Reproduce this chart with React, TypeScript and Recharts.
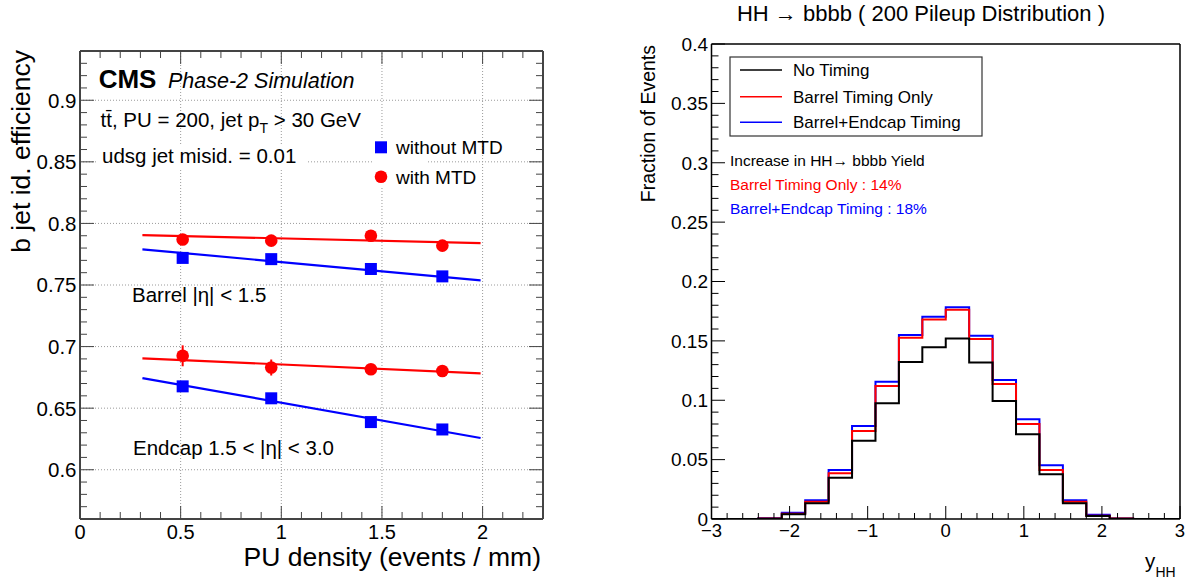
import React from "react";
import { ScatterChart, ComposedChart, Scatter, Line, XAxis, YAxis, ReferenceLine, ErrorBar } from "recharts";

const FONT = '"Liberation Sans", Arial, Helvetica, sans-serif';
const RED = "#ff0000";
const BLUE = "#0000ff";

// left panel: b jet id. efficiency vs PU density
const puDensity = [0.51, 0.95, 1.445, 1.8];
const barrelNoMtd = [0.772, 0.771, 0.763, 0.757];
const barrelMtd = [0.787, 0.786, 0.79, 0.782];
const endcapNoMtd = [0.6677, 0.658, 0.6387, 0.6327];
const endcapMtd = [0.6925, 0.683, 0.6816, 0.6802];
const endcapMtdErr = [0.0085, 0.0065, 0.0025, 0.0025];
const fitRange = [0.31, 1.99];
const barrelNoMtdFit = [0.779, 0.7537];
const barrelMtdFit = [0.7905, 0.784];
const endcapNoMtdFit = [0.6744, 0.6258];
const endcapMtdFit = [0.6905, 0.6783];

const effTicks = [
  0.57, 0.58, 0.59, 0.6, 0.61, 0.62, 0.63, 0.64, 0.65, 0.66, 0.67, 0.68, 0.69, 0.7, 0.71, 0.72, 0.73, 0.74, 0.75,
  0.76, 0.77, 0.78, 0.79, 0.8, 0.81, 0.82, 0.83, 0.84, 0.85, 0.86, 0.87, 0.88, 0.89, 0.9, 0.91, 0.92, 0.93,
];
const effMajor = [0.6, 0.65, 0.7, 0.75, 0.8, 0.85, 0.9];
const puTicks = [0, 0.1, 0.2, 0.3, 0.4, 0.5, 0.6, 0.7, 0.8, 0.9, 1, 1.1, 1.2, 1.3, 1.4, 1.5, 1.6, 1.7, 1.8, 1.9, 2, 2.1, 2.2];
const puMajor = [0, 0.5, 1, 1.5, 2];

// right panel: y_HH distribution, 0.3 wide bins
const binLow = [-3, -2.7, -2.4, -2.1, -1.8, -1.5, -1.2, -0.9, -0.6, -0.3, 0, 0.3, 0.6, 0.9, 1.2, 1.5, 1.8, 2.1, 2.4, 2.7];
const binEnd = 3;
const noTiming = [0, 0, 0.0003, 0.0039, 0.0132, 0.0348, 0.066, 0.0974, 0.1322, 0.1446, 0.1519, 0.1317, 0.0994, 0.0713, 0.0376, 0.0132, 0.0025, 0.0003, 0, 0];
const barrelTiming = [0, 0, 0.0004, 0.0045, 0.0146, 0.0385, 0.0741, 0.112, 0.1527, 0.1681, 0.1763, 0.1516, 0.1137, 0.08, 0.0413, 0.0146, 0.0028, 0.0004, 0, 0];
const barrelEndcapTiming = [0, 0, 0.0006, 0.0053, 0.0157, 0.0413, 0.0783, 0.1156, 0.155, 0.1704, 0.1783, 0.1544, 0.117, 0.084, 0.0452, 0.0157, 0.0035, 0.0005, 0, 0];

const fracTicks = [
  0, 0.01, 0.02, 0.03, 0.04, 0.05, 0.06, 0.07, 0.08, 0.09, 0.1, 0.11, 0.12, 0.13, 0.14, 0.15, 0.16, 0.17, 0.18, 0.19, 0.2,
  0.21, 0.22, 0.23, 0.24, 0.25, 0.26, 0.27, 0.28, 0.29, 0.3, 0.31, 0.32, 0.33, 0.34, 0.35, 0.36, 0.37, 0.38, 0.39, 0.4,
];
const fracMajor = [0, 0.05, 0.1, 0.15, 0.2, 0.25, 0.3, 0.35, 0.4];
const yhhTicks = [
  -3, -2.8, -2.6, -2.4, -2.2, -2, -1.8, -1.6, -1.4, -1.2, -1, -0.8, -0.6, -0.4, -0.2, 0, 0.2, 0.4, 0.6, 0.8, 1, 1.2, 1.4,
  1.6, 1.8, 2, 2.2, 2.4, 2.6, 2.8, 3,
];
const yhhMajor = [-3, -2, -1, 0, 1, 2, 3];

const toPoints = (xs: number[], ys: number[], errs?: number[]) =>
  xs.map((x, i) => ({ x, y: ys[i], err: errs ? errs[i] : 0 }));

const histRows = binLow
  .map((x, i) => ({ x, none: noTiming[i], barrel: barrelTiming[i], both: barrelEndcapTiming[i] }))
  .concat([{ x: binEnd, none: noTiming[19], barrel: barrelTiming[19], both: barrelEndcapTiming[19] }]);

type Side = "left" | "right" | "top" | "bottom";
interface TickOpts {
  side: Side;
  majors: number[];
  majorLen: number;
  minorLen: number;
  labels?: boolean;
  fontSize?: number;
  color: string;
  format?: (v: number) => string;
}

// ROOT style ticks: drawn inward from the frame, labels only on the major ones
function insideTick(o: TickOpts) {
  return (p: any) => {
    const v = Number(p.payload?.value);
    const major = o.majors.some((m) => Math.abs(m - v) < 1e-6);
    const len = major ? o.majorLen : o.minorLen;
    const x = p.x;
    const y = p.y;
    let x2 = x;
    let y2 = y;
    if (o.side === "left") x2 = x + len;
    if (o.side === "right") x2 = x - len;
    if (o.side === "top") y2 = y + len;
    if (o.side === "bottom") y2 = y - len;
    const fs = o.fontSize ?? 20;
    const txt = o.format ? o.format(v) : String(v);
    return (
      <g>
        <line x1={x} y1={y} x2={x2} y2={y2} stroke={o.color} strokeWidth={1} />
        {major && o.labels && o.side === "left" && (
          <text x={x - 3.5} y={y + fs * 0.36} textAnchor="end" fontSize={fs} fontFamily={FONT} fill="#000">
            {txt}
          </text>
        )}
        {major && o.labels && o.side === "bottom" && (
          <text x={x} y={y + fs * 0.98} textAnchor="middle" fontSize={fs} fontFamily={FONT} fill="#000">
            {txt}
          </text>
        )}
      </g>
    );
  };
}

const squareShape = (color: string) => (p: any) => (
  <rect x={p.cx - 6} y={p.cy - 6} width={12} height={12} fill={color} />
);
const circleShape = (color: string) => (p: any) => <circle cx={p.cx} cy={p.cy} r={6.3} fill={color} />;
const noShape = () => <g />;

const minus = (v: number) => (v < 0 ? "\u2212" + Math.abs(v) : String(v));

function EfficiencyPanel() {
  const frame = { stroke: "#444", strokeWidth: 2 };
  return (
    <ScatterChart width={560} height={579} margin={{ top: 50, right: 16, bottom: 30, left: 20 }}>
      {effMajor.map((v) => (
        <ReferenceLine key={"gy" + v} y={v} stroke="#9a9a9a" strokeDasharray="1 2" />
      ))}
      {puMajor.map((v) => (
        <ReferenceLine key={"gx" + v} x={v} stroke="#9a9a9a" strokeDasharray="1 2" />
      ))}
      <XAxis
        dataKey="x"
        type="number"
        domain={[0, 2.3]}
        allowDataOverflow
        ticks={puTicks}
        interval={0}
        height={30}
        tickSize={0}
        tickMargin={0}
        tickLine={false}
        axisLine={frame}
        tick={insideTick({ side: "bottom", majors: puMajor, majorLen: 13, minorLen: 7, labels: true, fontSize: 20, color: "#444" })}
      />
      <XAxis
        xAxisId="t"
        orientation="top"
        dataKey="x"
        type="number"
        domain={[0, 2.3]}
        allowDataOverflow
        ticks={puTicks}
        interval={0}
        height={1}
        tickSize={0}
        tickMargin={0}
        tickLine={false}
        axisLine={frame}
        tick={insideTick({ side: "top", majors: puMajor, majorLen: 13, minorLen: 7, color: "#444" })}
      />
      <YAxis
        dataKey="y"
        type="number"
        domain={[0.56, 0.94]}
        allowDataOverflow
        ticks={effTicks}
        interval={0}
        width={60}
        tickSize={0}
        tickMargin={0}
        tickLine={false}
        axisLine={frame}
        tick={insideTick({ side: "left", majors: effMajor, majorLen: 14, minorLen: 7, labels: true, fontSize: 20.5, color: "#444" })}
      />
      <YAxis
        yAxisId="r"
        orientation="right"
        dataKey="y"
        type="number"
        domain={[0.56, 0.94]}
        allowDataOverflow
        ticks={effTicks}
        interval={0}
        width={1}
        tickSize={0}
        tickMargin={0}
        tickLine={false}
        axisLine={frame}
        tick={insideTick({ side: "right", majors: effMajor, majorLen: 14, minorLen: 7, color: "#444" })}
      />
      {/* invisible series so the mirrored frame axes get registered */}
      <Scatter xAxisId="t" yAxisId="r" data={toPoints(fitRange, barrelMtdFit)} shape={noShape} isAnimationActive={false} />
      <Scatter data={toPoints(fitRange, barrelMtdFit)} line={{ stroke: RED, strokeWidth: 2.2 }} shape={noShape} isAnimationActive={false} />
      <Scatter data={toPoints(fitRange, barrelNoMtdFit)} line={{ stroke: BLUE, strokeWidth: 2.2 }} shape={noShape} isAnimationActive={false} />
      <Scatter data={toPoints(fitRange, endcapMtdFit)} line={{ stroke: RED, strokeWidth: 2.2 }} shape={noShape} isAnimationActive={false} />
      <Scatter data={toPoints(fitRange, endcapNoMtdFit)} line={{ stroke: BLUE, strokeWidth: 2.2 }} shape={noShape} isAnimationActive={false} />
      <Scatter data={toPoints(puDensity, barrelMtd)} shape={circleShape(RED)} isAnimationActive={false} />
      <Scatter data={toPoints(puDensity, barrelNoMtd)} shape={squareShape(BLUE)} isAnimationActive={false} />
      <Scatter data={toPoints(puDensity, endcapMtd, endcapMtdErr)} shape={circleShape(RED)} isAnimationActive={false}>
        <ErrorBar dataKey="err" direction="y" width={0} stroke={RED} strokeWidth={2} />
      </Scatter>
      <Scatter data={toPoints(puDensity, endcapNoMtd)} shape={squareShape(BLUE)} isAnimationActive={false} />
    </ScatterChart>
  );
}

function HistogramPanel() {
  const frame = { stroke: "#000", strokeWidth: 1.5 };
  return (
    <ComposedChart width={588} height={579} data={histRows} margin={{ top: 43, right: 7, bottom: 30, left: 51.5 }}>
      <XAxis
        dataKey="x"
        type="number"
        domain={[-3, 3]}
        allowDataOverflow
        ticks={yhhTicks}
        interval={0}
        height={30}
        tickSize={0}
        tickMargin={0}
        tickLine={false}
        axisLine={frame}
        tick={insideTick({ side: "bottom", majors: yhhMajor, majorLen: 13, minorLen: 6, labels: true, fontSize: 18.5, color: "#000", format: minus })}
      />
      <XAxis xAxisId="t" orientation="top" dataKey="x" type="number" domain={[-3, 3]} allowDataOverflow height={1} tick={false} tickLine={false} axisLine={frame} />
      <YAxis
        type="number"
        domain={[0, 0.4]}
        allowDataOverflow
        ticks={fracTicks}
        interval={0}
        width={60}
        tickSize={0}
        tickMargin={0}
        tickLine={false}
        axisLine={frame}
        tick={insideTick({ side: "left", majors: fracMajor, majorLen: 13.5, minorLen: 7, labels: true, fontSize: 19, color: "#000" })}
      />
      <YAxis yAxisId="r" orientation="right" type="number" domain={[0, 0.4]} allowDataOverflow width={1} tick={false} tickLine={false} axisLine={frame} />
      <Line dataKey="both" type="stepAfter" stroke={BLUE} strokeWidth={2} dot={false} isAnimationActive={false} />
      <Line dataKey="barrel" type="stepAfter" stroke={RED} strokeWidth={2} dot={false} isAnimationActive={false} />
      <Line dataKey="none" type="stepAfter" stroke="#000" strokeWidth={2} dot={false} isAnimationActive={false} />
      <Line xAxisId="t" yAxisId="r" dataKey="none" stroke="none" dot={false} isAnimationActive={false} />
    </ComposedChart>
  );
}

function Annotations() {
  return (
    <svg width={1188} height={579} style={{ position: "absolute", left: 0, top: 0, pointerEvents: "none" }} fontFamily={FONT}>
      {/* left panel */}
      <text x={30} y={50} fontSize={26.5} textAnchor="end" transform="rotate(-90 30 50)">
        b jet id. efficiency
      </text>
      <text x={541} y={566} fontSize={26.5} textAnchor="end">
        PU density (events / mm)
      </text>
      <text x={98.7} y={88} fontSize={26} fontWeight="bold">
        CMS
      </text>
      <text x={168} y={88} fontSize={21.5} fontStyle="italic">
        Phase-2 Simulation
      </text>
      <text x={100.5} y={127} fontSize={20.5}>
        t{"t\u0304"}, PU = 200, jet p<tspan dy={6} fontSize={14}>T</tspan>
        <tspan dy={-6}> &gt; 30 GeV</tspan>
      </text>
      <rect x={97} y={146} width={210} height={24} fill="#fff" />
      <text x={102} y={162.7} fontSize={20.5}>
        udsg jet misid. = 0.01
      </text>
      <rect x={373} y={138} width={54} height={50} fill="#fff" />
      <rect x={375} y={141.3} width={12} height={12} fill={BLUE} />
      <text x={396} y={154} fontSize={19}>
        without MTD
      </text>
      <circle cx={381} cy={176.7} r={6.3} fill={RED} />
      <text x={396} y={184} fontSize={19}>
        with MTD
      </text>
      <text x={132} y={301.7} fontSize={20.5}>
        Barrel |η| &lt; 1.5
      </text>
      <text x={133} y={455} fontSize={20.5}>
        Endcap 1.5 &lt; |η| &lt; 3.0
      </text>

      {/* right panel */}
      <text x={921} y={21} fontSize={22} textAnchor="middle">
        HH → bbbb ( 200 Pileup Distribution )
      </text>
      <text x={655} y={45} fontSize={19.5} textAnchor="end" transform="rotate(-90 655 45)">
        Fraction of Events
      </text>
      <rect x={730} y={57} width={252} height={79} fill="#fff" stroke="#333" strokeWidth={1.2} />
      <line x1={740} y1={70} x2={782} y2={70} stroke="#000" strokeWidth={1.5} />
      <text x={793} y={76} fontSize={17}>
        No Timing
      </text>
      <line x1={740} y1={96.7} x2={782} y2={96.7} stroke={RED} strokeWidth={1.5} />
      <text x={793} y={102.7} fontSize={17}>
        Barrel Timing Only
      </text>
      <line x1={740} y1={122.3} x2={782} y2={122.3} stroke={BLUE} strokeWidth={1.5} />
      <text x={793} y={128.3} fontSize={17}>
        Barrel+Endcap Timing
      </text>
      <text x={730} y={165.7} fontSize={15.5}>
        Increase in HH→ bbbb Yield
      </text>
      <text x={730} y={190} fontSize={15.5} fill={RED}>
        Barrel Timing Only : 14%
      </text>
      <text x={730} y={214} fontSize={15.5} fill={BLUE}>
        Barrel+Endcap Timing : 18%
      </text>
      <text x={1145} y={568} fontSize={20.5}>
        y
      </text>
      <text x={1155.5} y={577} fontSize={14}>
        HH
      </text>
    </svg>
  );
}

export default function App() {
  return (
    <div style={{ position: "absolute", left: 0, top: 0, width: 1188, height: 579, background: "#fff", fontFamily: FONT }}>
      <div style={{ position: "absolute", left: 0, top: 0 }}>
        <EfficiencyPanel />
      </div>
      <div style={{ position: "absolute", left: 600, top: 0 }}>
        <HistogramPanel />
      </div>
      <Annotations />
    </div>
  );
}
